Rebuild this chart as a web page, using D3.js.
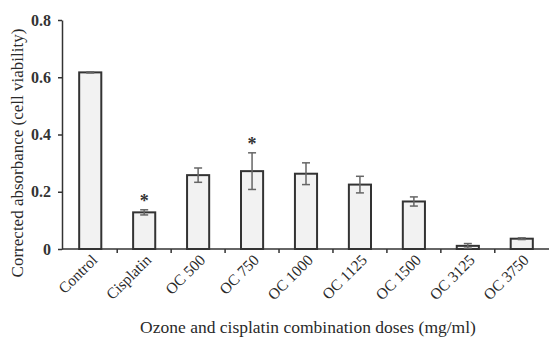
<!DOCTYPE html>
<html><head><meta charset="utf-8">
<script src="https://cdn.jsdelivr.net/npm/d3@7"></script>
<style>body{margin:0;background:#fff}svg{display:block}</style>
</head><body>
<svg id="c" width="550" height="343"></svg>
<script>
const categories = ["Control","Cisplatin","OC 500","OC 750","OC 1000","OC 1125","OC 1500","OC 3125","OC 3750"];
const values = [0.617, 0.128, 0.258, 0.272, 0.263, 0.225, 0.166, 0.011, 0.036];
const errors = [0.002, 0.009, 0.025, 0.064, 0.038, 0.029, 0.016, 0.008, 0.003];
const significant = ["Cisplatin","OC 750"];
const yTicks = [0, 0.2, 0.4, 0.6, 0.8];

const FONT = "'Liberation Serif','DejaVu Serif','Times New Roman',serif";
const svg = d3.select("#c").attr("font-family", FONT);
const m = {l:62};
const x = d3.scaleBand().domain(categories).range([63, 549]).paddingInner(0.59).paddingOuter(0.3);
const y = d3.scaleLinear().domain([0, 0.8]).range([249, 20]);

// y axis
const ya = svg.append("g").attr("transform", `translate(${m.l},0)`)
  .call(d3.axisLeft(y).tickValues(yTicks).tickFormat(d => d === 0 ? "0" : d3.format(".1f")(d)).tickSize(4).tickSizeOuter(0));
ya.attr("font-family", FONT);
ya.select(".domain").attr("stroke","#333").attr("stroke-width",1.5);
ya.selectAll(".tick line").attr("stroke","#333").attr("stroke-width",1.5);
ya.selectAll("text").attr("font-size",16).attr("font-weight","bold").attr("fill","#333").attr("x",-11);

// x axis with ticks between bands
const xa = svg.append("g").attr("transform", `translate(0,${y(0)})`);
xa.append("line").attr("x1", m.l).attr("x2", 549).attr("stroke","#333").attr("stroke-width",1.5);
const step = x.step();
const bounds = categories.slice(1).map(c => x(c) + x.bandwidth()/2 - step/2);
xa.selectAll("line.tk").data(bounds).join("line").attr("class","tk")
  .attr("x1", d => d).attr("x2", d => d).attr("y1", 0).attr("y2", 4).attr("stroke","#333").attr("stroke-width",1.5);
xa.selectAll("text.lb").data(categories).join("text").attr("class","lb")
  .attr("transform", d => `translate(${x(d)+x.bandwidth()/2+8},${12}) rotate(-45)`)
  .attr("text-anchor","end").attr("font-size",15.5).attr("fill","#2a2a2a").text(d => d);

// bars
svg.append("g").selectAll("rect").data(categories).join("rect")
  .attr("x", d => x(d)).attr("width", x.bandwidth())
  .attr("y", (d,i) => y(values[i])).attr("height", (d,i) => y(0) - y(values[i]))
  .attr("fill","#f2f2f2").attr("stroke","#333").attr("stroke-width",2);

// error bars
const eg = svg.append("g").attr("stroke","#666").attr("stroke-width",1.5);
categories.forEach((c,i) => {
  const cx = x(c) + x.bandwidth()/2;
  const y1 = y(values[i] + errors[i]), y2 = y(values[i] - errors[i]);
  eg.append("line").attr("x1",cx).attr("x2",cx).attr("y1",y1).attr("y2",y2);
  eg.append("line").attr("x1",cx-4).attr("x2",cx+4).attr("y1",y1).attr("y2",y1);
  eg.append("line").attr("x1",cx-4).attr("x2",cx+4).attr("y1",y2).attr("y2",y2);
});

// significance stars
svg.append("g").selectAll("text").data(significant).join("text")
  .attr("x", d => x(d) + x.bandwidth()/2)
  .attr("y", d => { const i = categories.indexOf(d); return y(values[i] + errors[i]) - 3; })
  .attr("text-anchor","middle").attr("font-size",18).attr("font-weight","bold").attr("fill","#333").text("*");

// titles
svg.append("text").attr("transform", `translate(23,${153}) rotate(-90)`)
  .attr("text-anchor","middle").attr("font-size",17).attr("fill","#2a2a2a").text("Corrected absorbance (cell viability)");
svg.append("text").attr("x", 308).attr("y", 333).attr("text-anchor","middle").attr("font-size",17.5).attr("fill","#2a2a2a")
  .text("Ozone and cisplatin combination doses (mg/ml)");
</script>
</body></html>
